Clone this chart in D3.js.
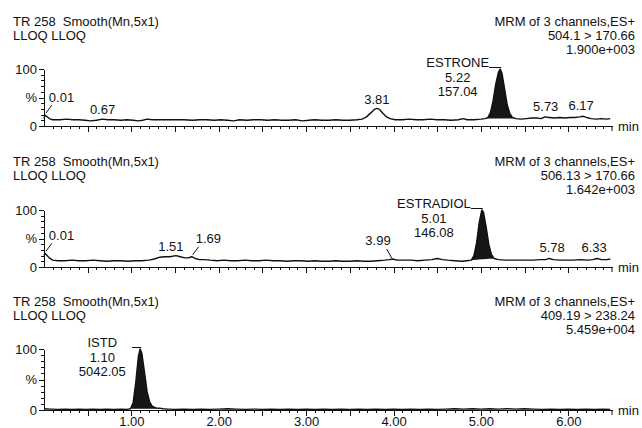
<!DOCTYPE html>
<html>
<head>
<meta charset="utf-8">
<script src="https://cdn.jsdelivr.net/npm/d3@7"></script>
<style>
    body { margin: 0; background: #fff; }
    svg text { font-family: "Liberation Sans", Arial, sans-serif; font-size: 13px; fill: #111; white-space: pre; }
</style>
</head>
<body>
<div id="chart"></div>
<script>
// ---- values ----
const sampleTitle = "TR 258  Smooth(Mn,5x1)";
const sampleName = "LLOQ LLOQ";
const channelHeader = "MRM of 3 channels,ES+";
const compounds = ["ESTRONE", "ESTRADIOL", "ISTD"];
const transitions = ["504.1 > 170.66", "506.13 > 170.66", "409.19 > 238.24"];
const fullScale = ["1.900e+003", "1.642e+003", "5.459e+004"];
const peakRT = [5.22, 5.01, 1.10];
const peakArea = ["157.04", "146.08", "5042.05"];
const integrationWindows = [[5.05, 5.40], [4.89, 5.15], [0.99, 1.36]];
const timeTicks = [1, 2, 3, 4, 5, 6];

const estroneMinorRT = [0.01, 0.67, 3.81, 5.73, 6.17];
const estradiolMinorRT = [0.01, 1.51, 1.69, 3.99, 5.78, 6.33];
const istdMinorRT = [];

// traces: [time (min), relative intensity (%)]
const estroneTrace = [
    [0.00, 13], [0.01, 19], [0.03, 17], [0.06, 13], [0.10, 11], [0.18, 11], [0.26, 12], [0.33, 11],
    [0.40, 11], [0.47, 10], [0.53, 9], [0.60, 10], [0.67, 12], [0.73, 11], [0.80, 11], [0.88, 10],
    [0.95, 11], [1.02, 10], [1.08, 9], [1.13, 10], [1.18, 12], [1.24, 11], [1.32, 11], [1.40, 11],
    [1.50, 11], [1.60, 11], [1.70, 10], [1.78, 11], [1.86, 11], [1.95, 10], [2.02, 11], [2.10, 10],
    [2.17, 9], [2.24, 11], [2.32, 10], [2.40, 11], [2.48, 11], [2.56, 10], [2.64, 11], [2.72, 10],
    [2.80, 10], [2.88, 11], [2.96, 9], [3.03, 10], [3.10, 11], [3.18, 10], [3.26, 10], [3.34, 11],
    [3.42, 10], [3.50, 10], [3.58, 11], [3.64, 12], [3.69, 16], [3.74, 23], [3.78, 29], [3.81, 31],
    [3.84, 29], [3.88, 22], [3.92, 16], [3.96, 13], [4.02, 11], [4.10, 11], [4.18, 12], [4.26, 11],
    [4.34, 11], [4.42, 12], [4.50, 11], [4.58, 11], [4.66, 10], [4.74, 11], [4.80, 13], [4.84, 11],
    [4.92, 11], [5.00, 12], [5.05, 13], [5.08, 15], [5.11, 24], [5.14, 45], [5.17, 74], [5.20, 94],
    [5.22, 100], [5.24, 93], [5.27, 66], [5.30, 38], [5.33, 22], [5.36, 15], [5.40, 13], [5.46, 12],
    [5.52, 13], [5.58, 14], [5.64, 14], [5.69, 13], [5.73, 16], [5.78, 15], [5.84, 14], [5.90, 15],
    [5.96, 14], [6.02, 15], [6.08, 15], [6.13, 16], [6.17, 17], [6.21, 15], [6.26, 13], [6.32, 12],
    [6.38, 13], [6.44, 12], [6.48, 13]
];

const estradiolTrace = [
    [0.00, 20], [0.01, 24], [0.03, 21], [0.06, 16], [0.10, 12], [0.16, 11], [0.24, 11], [0.32, 12],
    [0.40, 11], [0.48, 11], [0.56, 12], [0.64, 11], [0.72, 10], [0.80, 11], [0.88, 11], [0.96, 10],
    [1.04, 11], [1.12, 11], [1.20, 12], [1.26, 14], [1.32, 17], [1.38, 18], [1.44, 18], [1.51, 20],
    [1.56, 18], [1.61, 16], [1.65, 16], [1.69, 18], [1.73, 15], [1.78, 13], [1.84, 13], [1.90, 12],
    [1.98, 11], [2.06, 12], [2.14, 11], [2.22, 11], [2.30, 12], [2.38, 11], [2.46, 11], [2.54, 12],
    [2.62, 11], [2.70, 11], [2.78, 10], [2.86, 11], [2.94, 11], [3.02, 10], [3.10, 11], [3.18, 10],
    [3.26, 10], [3.34, 11], [3.42, 10], [3.50, 10], [3.58, 11], [3.66, 10], [3.74, 10], [3.82, 11],
    [3.90, 12], [3.95, 13], [3.99, 14], [4.04, 12], [4.12, 12], [4.20, 12], [4.28, 11], [4.36, 12],
    [4.44, 13], [4.50, 15], [4.56, 13], [4.62, 12], [4.70, 11], [4.78, 10], [4.84, 11], [4.89, 12],
    [4.92, 20], [4.95, 42], [4.98, 78], [5.01, 100], [5.03, 96], [5.06, 70], [5.09, 40], [5.12, 22],
    [5.15, 15], [5.20, 13], [5.28, 12], [5.36, 12], [5.44, 12], [5.52, 12], [5.60, 12], [5.68, 13],
    [5.74, 13], [5.78, 15], [5.83, 13], [5.90, 12], [5.98, 12], [6.06, 12], [6.14, 13], [6.22, 12],
    [6.28, 13], [6.33, 15], [6.38, 13], [6.44, 13], [6.48, 14]
];

const istdTrace = [
    [0.00, 2], [0.08, 1.5], [0.16, 1], [0.24, 1.5], [0.32, 1], [0.40, 1.5], [0.48, 1], [0.56, 1.5],
    [0.64, 1], [0.72, 1.5], [0.80, 1], [0.88, 1.5], [0.95, 1], [0.99, 2], [1.02, 12], [1.05, 45],
    [1.08, 88], [1.10, 100], [1.12, 93], [1.15, 62], [1.18, 30], [1.21, 13], [1.24, 6], [1.28, 3.5],
    [1.32, 3], [1.36, 2], [1.42, 1.5], [1.50, 1], [1.60, 1.5], [1.70, 1], [1.80, 1.5], [1.90, 1],
    [2.00, 1.5], [2.10, 2], [2.20, 1.5], [2.30, 1], [2.40, 1.5], [2.50, 1], [2.60, 1.5], [2.70, 1],
    [2.80, 1.5], [2.90, 1], [3.00, 1.5], [3.10, 1], [3.20, 1.5], [3.30, 1], [3.40, 1.5], [3.50, 1],
    [3.60, 1.5], [3.70, 1], [3.80, 1.5], [3.90, 1], [4.00, 1.5], [4.10, 1], [4.20, 1.5], [4.30, 1],
    [4.40, 1.5], [4.50, 1], [4.60, 1.5], [4.70, 2], [4.80, 1.5], [4.90, 2], [5.00, 1.5], [5.10, 2],
    [5.20, 1.5], [5.30, 2], [5.40, 1.5], [5.50, 2], [5.60, 1.5], [5.70, 1], [5.80, 1.5], [5.90, 1],
    [6.00, 1.5], [6.10, 1], [6.20, 1.5], [6.30, 1], [6.40, 1.5], [6.48, 1]
];

const traces = [estroneTrace, estradiolTrace, istdTrace];
const minorRTs = [estroneMinorRT, estradiolMinorRT, istdMinorRT];

// ---- layout ----
const width = 642, height = 428;
const panelTop = [0, 140, 280];
const plotTop = [69, 210, 349];
const plotZero = [126, 267, 410];
const xLeft = 44, xRight = 612;

// where each small rt label sits relative to its point on the trace
const minorLabelPos = [
    {"0.01": {lead: "right"}, "0.67": {dx: 0, dy: -10}, "3.81": {dx: 0, dy: -9}, "5.73": {dx: 1, dy: -10}, "6.17": {dx: -2, dy: -11}},
    {"0.01": {lead: "right"}, "1.51": {dx: -5, dy: -9}, "1.69": {lead: "right"}, "3.99": {lead: "left"}, "5.78": {dx: 3, dy: -11}, "6.33": {dx: -3, dy: -11}},
    {}
];
// how far left of the apex the compound name ends
const nameShift = [-11, -11, -23];

const svg = d3.select("#chart").append("svg")
    .attr("width", width)
    .attr("height", height);


class ChromPanel {

    constructor(svg, index, showTimeLabels) {
        this.svg = svg;
        this.i = index;
        this.trace = traces[index];
        this.minorRT = minorRTs[index];
        this.showTimeLabels = showTimeLabels;

        this.initVis();
    }

    initVis() {
        let vis = this;
        let i = vis.i;

        vis.g = vis.svg.append("g").attr("class", "panel");

        vis.x = d3.scaleLinear().domain([0, 6.5]).range([xLeft, xRight]);
        vis.y = d3.scaleLinear().domain([0, 100]).range([plotZero[i], plotTop[i]]);

        // header texts
        let top = panelTop[i];
        vis.g.append("text").attr("x", 13).attr("y", top + 21).attr("dy", "0.35em").text(sampleTitle);
        vis.g.append("text").attr("x", 13).attr("y", top + 35).attr("dy", "0.35em").text(sampleName);

        [channelHeader, transitions[i], fullScale[i]].forEach((t, k) => {
            vis.g.append("text")
                .attr("x", 635)
                .attr("y", top + 21 + k * 14)
                .attr("dy", "0.35em")
                .attr("text-anchor", "end")
                .text(t);
        });

        // y axis: minor ticks every 10 %, labels at 0 / % / 100
        vis.g.append("g")
            .attr("transform", `translate(${xLeft},0)`)
            .call(d3.axisLeft(vis.y).tickValues(d3.range(0, 101, 10)).tickSize(3).tickSizeOuter(0).tickFormat(""));

        vis.g.append("g")
            .attr("class", "y-axis")
            .attr("transform", `translate(${xLeft},0)`)
            .call(d3.axisLeft(vis.y).tickValues([0, 50, 100]).tickSize(5).tickPadding(2)
                .tickSizeOuter(0)
                .tickFormat(d => d === 50 ? "%" : d));

        // x axis: minor ticks every 0.1 min, longer every 0.5 min
        vis.g.append("g")
            .attr("transform", `translate(0,${plotZero[i]})`)
            .call(d3.axisBottom(vis.x).tickValues(d3.range(0.1, 6.45, 0.1)).tickSize(3).tickSizeOuter(0).tickFormat(""));

        vis.g.append("g")
            .attr("transform", `translate(0,${plotZero[i]})`)
            .call(d3.axisBottom(vis.x).tickValues(d3.range(0.5, 6.45, 0.5)).tickSize(6).tickSizeOuter(0).tickFormat(""))
            .select(".domain").remove();

        if (vis.showTimeLabels) {
            vis.g.append("g")
                .attr("transform", `translate(0,${plotZero[i]})`)
                .call(d3.axisBottom(vis.x).tickValues(timeTicks).tickSize(0).tickPadding(7)
                    .tickFormat(d3.format(".2f")))
                .select(".domain").remove();
        }

        // end hook + unit
        vis.g.append("line")
            .attr("x1", vis.x(6.5)).attr("x2", vis.x(6.5))
            .attr("y1", plotZero[i]).attr("y2", plotZero[i] + 5)
            .attr("stroke", "#111");

        vis.g.append("text")
            .attr("x", vis.x(6.5) + 6)
            .attr("y", plotZero[i])
            .attr("dy", "0.35em")
            .text("min");

        vis.g.selectAll(".tick line, .domain").attr("stroke", "#111").attr("shape-rendering", "crispEdges");
        vis.g.selectAll(".tick text").style("font-size", "13px").attr("fill", "#111");

        vis.updateVis();
    }

    valueAt(rt) {
        let vis = this;
        return d3.least(vis.trace, d => Math.abs(d[0] - rt))[1];
    }

    updateVis() {
        let vis = this;
        let i = vis.i;

        // integrated peak (filled)
        let win = integrationWindows[i];
        let inPeak = vis.trace.filter(d => d[0] >= win[0] - 1e-9 && d[0] <= win[1] + 1e-9);
        let first = inPeak[0], last = inPeak[inPeak.length - 1];
        let base = d3.scaleLinear().domain([first[0], last[0]]).range([first[1], last[1]]);

        let area = d3.area()
            .x(d => vis.x(d[0]))
            .y0(d => vis.y(base(d[0])))
            .y1(d => vis.y(d[1]));

        vis.g.append("path")
            .datum(inPeak)
            .attr("d", area)
            .attr("fill", "#161616");

        // trace
        let line = d3.line()
            .x(d => vis.x(d[0]))
            .y(d => vis.y(d[1]));

        vis.g.append("path")
            .datum(vis.trace)
            .attr("d", line)
            .attr("fill", "none")
            .attr("stroke", "#111")
            .attr("stroke-width", 1.4)
            .attr("stroke-linejoin", "round");

        // main peak label
        let px = vis.x(peakRT[i]);
        let py = vis.y(100);
        let nameEnd = px + nameShift[i];

        let name = vis.g.append("text")
            .attr("x", nameEnd)
            .attr("y", py - 7)
            .attr("dy", "0.35em")
            .attr("text-anchor", "end")
            .text(compounds[i]);
        let w = name.node().getComputedTextLength();
        let cx = nameEnd - w / 2;

        vis.g.append("line")
            .attr("x1", i === 2 ? px - 8 : nameEnd)
            .attr("x2", px + 1)
            .attr("y1", py - 1.5).attr("y2", py - 1.5)
            .attr("stroke", "#111");

        vis.g.append("text").attr("x", cx).attr("y", py + 8).attr("dy", "0.35em")
            .attr("text-anchor", "middle").text(peakRT[i].toFixed(2));
        vis.g.append("text").attr("x", cx).attr("y", py + 22).attr("dy", "0.35em")
            .attr("text-anchor", "middle").text(peakArea[i]);

        // small retention time labels
        vis.minorRT.forEach(rt => {
            let pos = minorLabelPos[i][String(rt)] || {dx: 0, dy: -10};
            let mx = vis.x(rt);
            let my = vis.y(vis.valueAt(rt));
            let label = vis.g.append("text").attr("dy", "0.35em").text(rt.toFixed(2));

            if (pos.lead === "right") {
                vis.g.append("line")
                    .attr("x1", mx + 1).attr("y1", my - 2)
                    .attr("x2", mx + 7).attr("y2", my - 10)
                    .attr("stroke", "#111");
                label.attr("x", mx + 4).attr("y", my - 18);
            } else if (pos.lead === "left") {
                vis.g.append("line")
                    .attr("x1", mx - 1).attr("y1", my - 1)
                    .attr("x2", mx - 6).attr("y2", my - 10)
                    .attr("stroke", "#111");
                label.attr("x", mx - 2).attr("y", my - 19).attr("text-anchor", "end");
            } else {
                label.attr("x", mx + pos.dx).attr("y", my + pos.dy).attr("text-anchor", "middle");
            }
        });
    }
}

let panels = [0, 1, 2].map(i => new ChromPanel(svg, i, i === 2));
</script>
</body>
</html>
